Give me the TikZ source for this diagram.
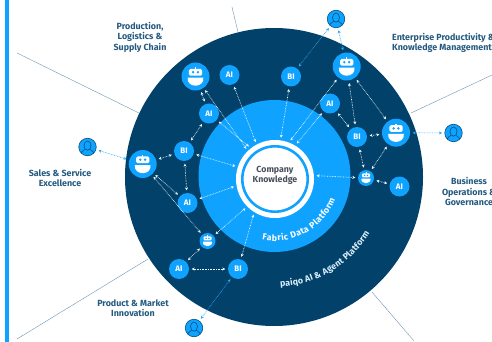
\documentclass[tikz,border=0pt]{standalone}
\usepackage{fontspec}
\setmainfont{Fira Sans}
\usetikzlibrary{arrows.meta,decorations.text}
\definecolor{navy}{HTML}{01416A}
\definecolor{sky}{HTML}{0FA3FF}
\definecolor{labelc}{HTML}{245A80}
\definecolor{divc}{HTML}{6F94AF}
\definecolor{knowc}{HTML}{4A4F5C}
\definecolor{linkb}{HTML}{2FA9F5}
\definecolor{palew}{HTML}{D9EEFB}
\newcommand{\arcfont}{\fontsize{8.8}{9}\selectfont\bfseries}
\tikzset{
  ball/.style={circle,fill=sky,text=white,inner sep=0pt,minimum size=20pt,font=\fontsize{8}{9}\selectfont\bfseries},
  botbig/.style={circle,fill=sky,inner sep=0pt,minimum size=28pt},
  botsmall/.style={circle,fill=sky,inner sep=0pt,minimum size=16pt},
  usernode/.style={circle,fill=sky,draw=navy!85!sky,line width=.6pt,inner sep=0pt,minimum size=17.5pt},
  tag/.style={text=labelc,font=\fontsize{8.9}{10.6}\selectfont\bfseries,align=center,inner sep=0pt},
  link/.style={{Stealth[length=3pt,width=3pt]}-{Stealth[length=3pt,width=3pt]},white!92!sky,line width=.65pt,dash pattern=on .7pt off .9pt,shorten >=2.5pt,shorten <=2.5pt},
  ulink/.style={link,linkb},
  divider/.style={divc,line width=.45pt,dash pattern=on .9pt off .35pt},
  pics/robot/.style={code={
    \fill[white] (-.6,-9.2) rectangle (.6,-7);
    \fill[white,rounded corners=1.6pt] (-6.7,-7.6) rectangle (6.7,-.8);
    \fill[white] (-7.8,1.2) -- (7.8,1.2) .. controls (8.6,6.5) and (4,9.2) .. (0,9.2) .. controls (-4,9.2) and (-8.6,6.5) .. (-7.8,1.2) -- cycle;
    \fill[sky] (-2.4,-4.3) circle (1.35) (2.4,-4.3) circle (1.35);
  }},
  pics/minibot/.style={code={
    \fill[white] (-.4,-5.6) rectangle (.4,-4.4);
    \fill[white,rounded corners=1pt] (-4,-4.6) rectangle (4,-.6);
    \fill[white] (-4.6,.5) -- (4.6,.5) .. controls (5,3.6) and (2.5,5.2) .. (0,5.2) .. controls (-2.5,5.2) and (-5,3.6) .. (-4.6,.5) -- cycle;
    \fill[sky] (-1.4,-2.6) circle (.8) (1.4,-2.6) circle (.8);
  }},
  pics/person/.style={code={
    \begin{scope}
    \clip (0,0) circle (8.6);
    \draw[navy!85!sky,line width=.6pt] (0,-1.4) ellipse (3.5 and 4.6);
    \draw[navy!85!sky,line width=.6pt] (-7.6,8) .. controls (-7.4,4.5) and (-3.8,4.6) .. (-2.4,2.2);
    \draw[navy!85!sky,line width=.6pt] (7.6,8) .. controls (7.4,4.5) and (3.8,4.6) .. (2.4,2.2);
    \end{scope}
  }},
}
\begin{document}
\begin{tikzpicture}[x=1pt,y=-1pt]
\useasboundingbox (0,0) rectangle (492,342);
\clip (0,0) rectangle (492,342);
\fill[white] (0,0) rectangle (492,342);
\fill[sky] (5,0) rectangle (9,342);

% dividers
\coordinate (d1a) at (232,7);   \coordinate (d1b) at (238,32);
\coordinate (d2a) at (17,53);   \coordinate (d2b) at (139,113);
\coordinate (d3a) at (17,339);  \coordinate (d3b) at (148,259);
\coordinate (d4a) at (492,75);  \coordinate (d4b) at (411,113);
\coordinate (d5a) at (372,292); \coordinate (d5b) at (414,341);
\draw[divider] (d1a) -- (d1b);
\draw[divider] (d2a) -- (d2b);
\draw[divider] (d3a) -- (d3b);
\draw[divider] (d4a) -- (d4b);
\draw[divider] (d5a) -- (d5b);

% discs
\fill[navy] (274,177) circle (149);
\fill[sky] (274.5,176) circle (76);
\node[circle,fill=white,inner sep=0pt,minimum size=78pt] (know) at (275,179) {};
\draw[sky,line width=2.6pt] (275,179) circle (32.7);
\node[text=knowc,font=\fontsize{8.8}{10.2}\selectfont\bfseries,align=center,inner sep=0pt] (knowt) at (275,175.5) {Company\\Knowledge};

% nodes
\node[botbig] (r1) at (195.5,76.5) {};
\node[ball] (a1) at (229.5,75) {AI};
\node[ball] (a2) at (209,113.5) {AI};
\node[ball] (b1) at (184,151) {BI};
\node[botbig] (r2) at (142.7,164) {};
\node[ball] (a3) at (187.5,203) {AI};
\node[botsmall] (s1) at (207.5,241) {};
\node[ball] (a4) at (179,269) {AI};
\node[ball] (b2) at (238,269) {BI};
\node[ball] (b3) at (291,76.5) {BI};
\node[botbig] (r3) at (346.7,66.5) {};
\node[ball] (a5) at (330,103.5) {AI};
\node[ball] (b4) at (357,137) {BI};
\node[botbig] (r4) at (396,132.7) {};
\node[botsmall] (s2) at (366,178) {};
\node[ball] (a6) at (399.5,186.5) {AI};
\node[usernode] (u1) at (87.5,147) {};
\node[usernode] (u2) at (194,328) {};
\node[usernode] (u3) at (336,19) {};
\node[usernode] (u4) at (453.5,133) {};

\pic at (r1) {robot};
\pic at (r2) {robot};
\pic at (r3) {robot};
\pic at (r4) {robot};
\pic at (s1) {minibot};
\pic at (s2) {minibot};
\pic at (u1) {person};
\pic at (u2) {person};
\pic at (u3) {person};
\pic at (u4) {person};

% links
\draw[link] (r1) -- (a2);
\draw[link] (r1) -- (know.134);
\draw[link] (a1) -- (know.118);
\draw[link] (a2) -- (know.128);
\draw[link] (a2) -- (b1);
\draw[link] (b1) -- (r2);
\draw[link] (b1) -- (know.162);
\draw[link] (b1) -- (a3);
\draw[link] (r2) -- (a3);
\draw[link] (r2) -- (s1);
\draw[link] (a3) -- (know.190);
\draw[link] (s1) -- (know.225);
\draw[link] (s1) -- (a4);
\draw[link] (a4) -- (b2);
\draw[link] (b2) -- (know.238);
\draw[link] (b3) -- (know.82);
\draw[link] (r3) -- (know.69);
\draw[link] (a5) -- (know.59);
\draw[link] (a5) -- (b4);
\draw[link] (r3) -- (b4);
\draw[link] (r3) -- (r4);
\draw[link] (b4) -- (r4);
\draw[link] (b4) -- (s2);
\draw[link] (r4) -- (s2);
\draw[link] (s2) -- (know.5);
\draw[link] (s2) -- (a6);
\draw[ulink] (u1) -- (r2);
\draw[ulink] (u2) -- (b2);
\draw[ulink] (u3) -- (b3);
\draw[ulink] (u3) -- (r3);
\draw[ulink] (r4) -- (u4);

% curved labels
\begin{scope}[shift={(274.5,176)},y=1pt]
\path[decorate,decoration={text along path,text align=fit to path,
  text color=white,text={|\arcfont|Fabric Data Platform}}]
  (-101:65) arc[start angle=-101,end angle=-21,radius=65];
\path[decorate,decoration={text along path,text align=fit to path,
  text color=palew,text={|\arcfont|paiqo AI {\&} Agent Platform}}]
  (-87:111) arc[start angle=-87,end angle=-31,radius=111];
\end{scope}

% labels
\node[tag] (t1) at (140,37) {Production,\\Logistics \&\\Supply Chain};
\node[tag] (t2) at (60,178) {Sales \& Service\\Excellence};
\node[tag] (t3) at (133,308) {Product \& Market\\Innovation};
\node[tag,anchor=west,align=left] (t4) at (392,43) {Enterprise Productivity \&\\Knowledge Management};
\node[tag] (t5) at (469,191.5) {Business\\Operations \&\\Governance};
\end{tikzpicture}
\end{document}
